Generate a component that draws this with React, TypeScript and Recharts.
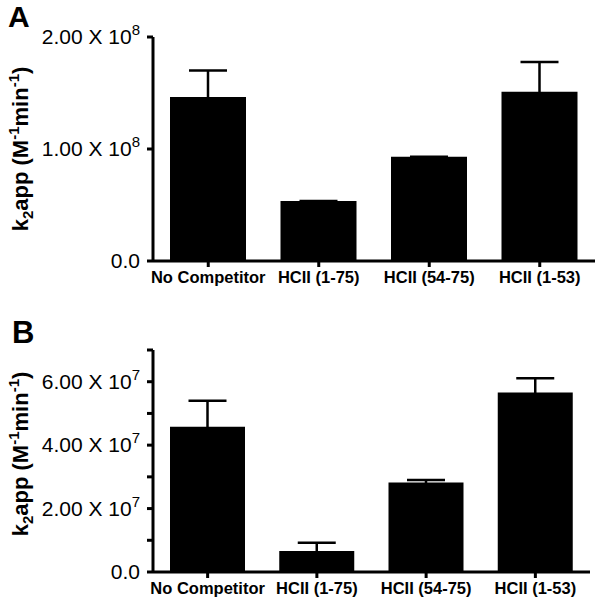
import React from 'react';
import { BarChart, Bar, XAxis, YAxis, ErrorBar } from 'recharts';

const categories = ['No Competitor', 'HCII (1-75)', 'HCII (54-75)', 'HCII (1-53)'];
const valuesA = [1.464e8, 0.536e8, 0.931e8, 1.512e8];
const errorsA = [0.236e8, 0, 0, 0.265e8];
const valuesB = [4.58e7, 0.66e7, 2.82e7, 5.66e7];
const errorsB = [0.82e7, 0.26e7, 0.08e7, 0.45e7];
const ticksA = [0, 1e8, 2e8];
const ticksB = [0, 1e7, 2e7, 3e7, 4e7, 5e7, 6e7, 7e7];
const labeledTicksB = [0, 2e7, 4e7, 6e7];
const maxA = 2e8;
const maxB = 7e7;

const FONT = '"Liberation Sans", Arial, Helvetica, sans-serif';

// lower whisker tucked just inside the bar top so only the upper whisker shows
const dataA = categories.map((c, i) => ({ name: c, value: valuesA[i], err: [maxA * 0.015, errorsA[i]] }));
const dataB = categories.map((c, i) => ({ name: c, value: valuesB[i], err: [maxB * 0.015, errorsB[i]] }));

function fmtTick(v: number): [string, string] {
  if (v === 0) return ['0.0', ''];
  const exp = Math.floor(Math.log10(v) + 1e-9);
  const mant = v / Math.pow(10, exp);
  return [mant.toFixed(2) + ' X 10', String(exp)];
}

const makeYTick = (labeled: number[] | null) => (props: any) => {
  const { x, y, payload } = props;
  const v = payload.value;
  if (labeled && !labeled.includes(v)) return <g />;
  const parts = fmtTick(v);
  return (
    <text x={x} y={y} dy={7} textAnchor="end" fontFamily={FONT} fontSize={21} fill="#000">
      {parts[0]}
      {parts[1] ? (
        <tspan fontSize={15} dy={-9}>{parts[1]}</tspan>
      ) : null}
    </text>
  );
};

const XTick = (props: any) => {
  const { x, y, payload } = props;
  return (
    <text x={x} y={y} dy={11} textAnchor="middle" fontFamily={FONT} fontSize={16.5} fontWeight="bold" fill="#000">
      {payload.value}
    </text>
  );
};

const YLabel = ({ cx, cy }: { cx: number; cy: number }) => (
  <text
    transform={`translate(${cx},${cy}) rotate(-90)`}
    textAnchor="middle"
    fontFamily={FONT}
    fontSize={22}
    fontWeight="bold"
    fill="#000"
  >
    k<tspan fontSize={15} dy={5}>2</tspan>
    <tspan dy={-5}>app (M</tspan>
    <tspan fontSize={15} dy={-9}>-1</tspan>
    <tspan dy={9}>min</tspan>
    <tspan fontSize={15} dy={-9}>-1</tspan>
    <tspan dy={9}>)</tspan>
  </text>
);

const axisLine = { stroke: '#000', strokeWidth: 3 };
const tickLine = { stroke: '#000', strokeWidth: 3 };

export default function App() {
  return (
    <div style={{ position: 'absolute', left: 0, top: 0, width: 600, height: 601, background: '#fff' }}>
      <div style={{ position: 'absolute', left: 0, top: 0 }}>
        <BarChart width={600} height={300} data={dataA} margin={{ top: 37, right: 5, bottom: 0, left: 0 }}>
          <XAxis
            dataKey="name"
            height={39}
            axisLine={axisLine}
            tickLine={tickLine}
            tickSize={6}
            tickMargin={5}
            tick={<XTick />}
            interval={0}
          />
          <YAxis
            width={153}
            domain={[0, maxA]}
            ticks={ticksA}
            axisLine={axisLine}
            tickLine={tickLine}
            tickSize={6}
            tickMargin={7}
            tick={makeYTick(null)}
            interval={0}
            label={<YLabel cx={28} cy={149} />}
          />
          <Bar dataKey="value" fill="#000" barSize={76} isAnimationActive={false}>
            <ErrorBar dataKey="err" width={19} stroke="#000" strokeWidth={2.5} direction="y" />
          </Bar>
        </BarChart>
      </div>
      <div style={{ position: 'absolute', left: 0, top: 300 }}>
        <BarChart width={600} height={301} data={dataB} margin={{ top: 50, right: 10, bottom: 0, left: 0 }}>
          <XAxis
            dataKey="name"
            height={29}
            axisLine={axisLine}
            tickLine={tickLine}
            tickSize={6}
            tickMargin={5}
            tick={<XTick />}
            interval={0}
          />
          <YAxis
            width={153}
            domain={[0, maxB]}
            ticks={ticksB}
            axisLine={axisLine}
            tickLine={tickLine}
            tickSize={6}
            tickMargin={7}
            tick={makeYTick(labeledTicksB)}
            interval={0}
            label={<YLabel cx={28} cy={154} />}
          />
          <Bar dataKey="value" fill="#000" barSize={75} isAnimationActive={false}>
            <ErrorBar dataKey="err" width={19} stroke="#000" strokeWidth={2.5} direction="y" />
          </Bar>
        </BarChart>
      </div>
      <div style={{ position: 'absolute', left: 8, top: 0, fontFamily: FONT, fontWeight: 'bold', fontSize: 30, lineHeight: '34px', color: '#000' }}>A</div>
      <div style={{ position: 'absolute', left: 12, top: 315, fontFamily: FONT, fontWeight: 'bold', fontSize: 31, lineHeight: '36px', color: '#000' }}>B</div>
    </div>
  );
}
